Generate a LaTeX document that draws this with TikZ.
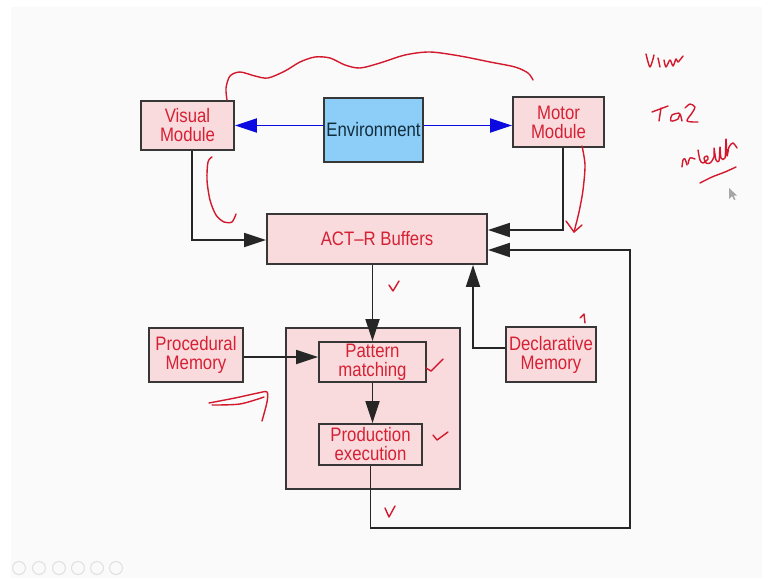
\documentclass[tikz,border=0pt]{standalone}
\usepackage{fontspec}
\setmainfont{Liberation Sans}
\newfontfamily\diagfont[FakeStretch=0.86,Ligatures=TeX]{Liberation Sans}
\usetikzlibrary{arrows.meta}
\definecolor{txtred}{RGB}{214,32,52}
\definecolor{boxpink}{RGB}{249,219,221}
\definecolor{envblue}{RGB}{140,206,248}
\definecolor{edgegray}{RGB}{55,55,55}
\definecolor{envtext}{RGB}{20,45,60}
\definecolor{ink}{RGB}{210,25,45}
\definecolor{slidebg}{RGB}{250,250,250}
\begin{document}
\begin{tikzpicture}[x=1pt,y=-1pt,
  box/.style={draw=edgegray, line width=1.8pt, fill=boxpink, text=txtred, align=center, inner sep=0pt,
    font=\diagfont\fontsize{19.5}{19}\selectfont},
  envbox/.style={box, fill=envblue, text=envtext},
  conn/.style={draw=black!85, line width=1.8pt, -{Triangle[length=22pt,width=14pt]}},
  bconn/.style={draw={rgb,255:red,10;green,10;blue,225}, line width=1.8pt, -{Triangle[length=22pt,width=14pt]}},
  handink/.style={draw=ink, line width=1.4pt, line cap=round, line join=round},
  navicon/.style={draw=black!12, line width=1pt}]
\useasboundingbox (0,0) rectangle (770,578);
\fill[white] (0,0) rectangle (770,578);
\fill[slidebg] (11,7) rectangle (762,578);

% boxes
\node[box, minimum width=93pt, minimum height=49pt] (vis) at (187.5,125.5) {Visual\\Module};
\node[envbox, minimum width=99pt, minimum height=64pt] (env) at (373.5,130) {Environment};
\node[box, minimum width=91pt, minimum height=50pt] (mot) at (558.5,122) {Motor\\Module};
\node[box, minimum width=220pt, minimum height=50pt] (buf) at (377,239) {ACT–R Buffers};
\node[box, minimum width=174pt, minimum height=161pt] (outer) at (373,408.5) {};
\node[box, minimum width=107pt, minimum height=40pt] (pat) at (372.5,362) {Pattern\\matching};
\node[box, minimum width=103pt, minimum height=41pt] (prod) at (370.5,444.5) {Production\\execution};
\node[box, minimum width=94pt, minimum height=54pt] (proc) at (196,355) {Procedural\\Memory};
\node[box, minimum width=90pt, minimum height=55pt] (decl) at (551,354.5) {Declarative\\Memory};
\coordinate (loopc) at (630,528);
\coordinate (pe) at ([yshift=-2pt]proc.east);

% connectors
\draw[bconn] (env.west |- vis.east) -- (vis.east);
\draw[bconn] (env.east |- vis.east) -- (mot.west |- vis.east);
\draw[conn] ([xshift=4.5pt]vis.south) |- ([yshift=-1pt]buf.west);
\draw[conn] ([xshift=4.5pt]mot.south) |- ([yshift=9pt]buf.east);
\draw[conn] (prod.south) |- (loopc) |- ([yshift=-11pt]buf.east);
\draw[conn] (pat.north |- buf.south) -- (pat.north);
\draw[conn] (pat.south) -- (pat.south |- prod.north);
\draw[conn] (pe) -- (pat.west |- pe);
\draw[conn] ([yshift=6.5pt]decl.west) -| ([xshift=96pt]buf.south);

% hand-drawn annotations
\draw[handink] plot[smooth] coordinates {(227,100) (226,88) (230,76) (240,72) (255,76) (268,78) (285,71) (300,62) (315,57) (330,58) (345,65) (360,68) (380,63) (405,55) (430,52) (460,56) (490,62) (515,67) (528,73) (533,80)};
\draw[handink] plot[smooth] coordinates {(212,157) (208,162) (207,180) (210,200) (216,215) (224,222) (232,222) (236,214)};
\draw[handink] plot[smooth] coordinates {(582,146) (585,165) (583,190) (579,212) (574,232)};
\draw[handink] (566,221) -- (574,232) -- (582,225);
\draw[handink] (389,285) -- (393,291) -- (399,281);
\draw[handink] (426,368) -- (431,371) .. controls (436,366) .. (443,359);
\draw[handink] (433,435) -- (437,440) .. controls (442,436) .. (448,432);
\draw[handink] (385,508) -- (389,517) -- (395,506);
\draw[handink] (580,318) -- (584,314) -- (585,323);
\draw[handink] plot[smooth] coordinates {(209,403) (235,398) (258,393) (267,392) (267,402) (262,421)};
\draw[handink] plot[smooth] coordinates {(212,405) (240,404) (264,397)};
% handwritten words
\draw[handink] plot[smooth] coordinates {(646,54) (650,67) (654,55)};
\draw[handink] (658,58) -- (660,67);
\draw[handink] plot[smooth] coordinates {(664,60) (666,67) (670,60) (673,66) (676,59) (678,62) (683,56)};
\draw[handink] (652,112) -- (668,106);
\draw[handink] (661,108) -- (659,121);
\draw[handink] plot[smooth] coordinates {(679,113) (672,115) (671,121) (678,119) (680,114) (682,121)};
\draw[handink] plot[smooth] coordinates {(685,108) (690,104) (695,107) (692,113) (687,121) (698,122)};
\draw[handink] plot[smooth] coordinates {(682,167) (683,160) (685,159) (687,165)};
\draw[handink] plot[smooth] coordinates {(688,164) (690,158) (695,159)};
\draw[handink] plot[smooth] coordinates {(698,150) (700,160) (703,163) (708,159) (707,156) (704,158) (706,163) (710,163) (714,157) (714,148) (716,160) (719,161) (720,147) (721,158) (725,158) (726,139) (727,156) (729,147) (733,143) (737,148)};
\draw[handink] plot[smooth] coordinates {(700,183) (712,177) (725,172) (736,167)};
% mouse pointer
\fill[black!35] (729,188) -- (729,199) -- (732,196) -- (734,200) -- (735.5,199.3) -- (733.5,195.5) -- (737,195.5) -- cycle;
% faint slide navigation icons
\foreach \cx in {19,39,59,78,97,116} \draw[navicon] (\cx,568) circle (6.5);
\end{tikzpicture}
\end{document}
